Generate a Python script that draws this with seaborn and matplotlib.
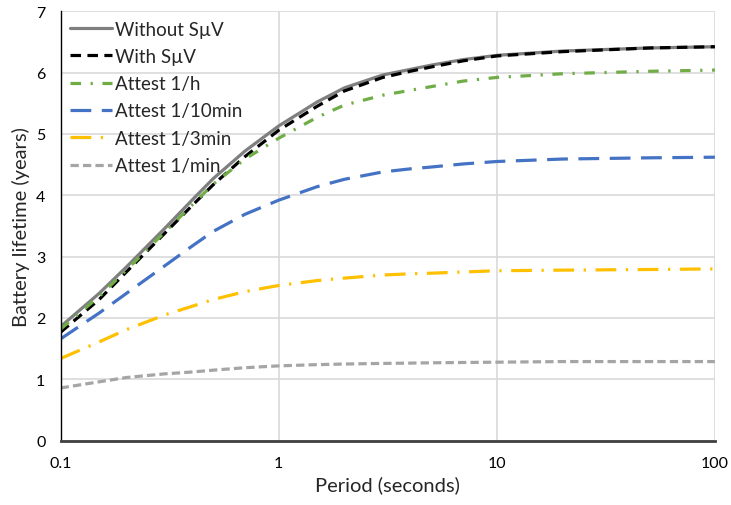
import pandas as pd
import seaborn as sns
import matplotlib.pyplot as plt
from matplotlib.ticker import FixedLocator, NullLocator

# Values
period = [0.1, 0.15, 0.2, 0.3, 0.4, 0.5, 0.7, 1, 1.5, 2, 3, 4, 5, 7, 10, 20, 50, 100]

without_smv = [1.86, 2.40, 2.83, 3.46, 3.92, 4.27, 4.72, 5.13, 5.52, 5.75, 5.96,
               6.05, 6.12, 6.21, 6.28, 6.35, 6.40, 6.42]
with_smv = [1.77, 2.30, 2.75, 3.38, 3.83, 4.17, 4.63, 5.06, 5.45, 5.70, 5.92,
            6.02, 6.09, 6.19, 6.27, 6.34, 6.40, 6.42]
attest_1h = [1.82, 2.35, 2.78, 3.40, 3.84, 4.18, 4.59, 4.93, 5.27, 5.47, 5.63,
             5.71, 5.77, 5.86, 5.92, 5.98, 6.02, 6.04]
attest_10min = [1.66, 2.08, 2.40, 2.85, 3.17, 3.41, 3.69, 3.92, 4.14, 4.26, 4.38,
                4.43, 4.46, 4.51, 4.55, 4.59, 4.61, 4.62]
attest_3min = [1.34, 1.61, 1.81, 2.05, 2.19, 2.30, 2.43, 2.53, 2.61, 2.65, 2.70,
               2.72, 2.73, 2.75, 2.77, 2.78, 2.79, 2.80]
attest_1min = [0.86, 0.96, 1.03, 1.09, 1.12, 1.15, 1.19, 1.22, 1.24, 1.25, 1.26,
               1.265, 1.27, 1.275, 1.28, 1.29, 1.29, 1.29]

series_names = ["Without SµV", "With SµV", "Attest 1/h",
                "Attest 1/10min", "Attest 1/3min", "Attest 1/min"]
series_values = [without_smv, with_smv, attest_1h,
                 attest_10min, attest_3min, attest_1min]
colors = ["#7f7f7f", "#000000", "#70ad47", "#4472c4", "#ffc000", "#a5a5a5"]
dash_list = ["", (3.3, 2.0), (3.3, 3.0, 0.7, 3.0), (6.5, 3.3),
             (6.5, 3.0, 0.7, 3.0), (2.6, 1.3)]

df = pd.concat(
    [pd.DataFrame({"Period": period, "Lifetime": vals, "Series": name})
     for name, vals in zip(series_names, series_values)],
    ignore_index=True,
)

sns.set_style("white")
plt.rcParams["font.family"] = ["Lato", "DejaVu Sans"]

fig, ax = plt.subplots(figsize=(7.31, 5.06), dpi=100)
fig.subplots_adjust(left=0.083, right=0.978, top=0.976, bottom=0.127)

sns.lineplot(
    data=df, x="Period", y="Lifetime", hue="Series", style="Series",
    hue_order=series_names, style_order=series_names,
    palette=dict(zip(series_names, colors)),
    dashes=dict(zip(series_names, dash_list)),
    linewidth=2.3, ax=ax,
)

ax.set_xscale("log")
ax.set_xlim(0.1, 100)
ax.set_ylim(0, 7)
ax.xaxis.set_major_locator(FixedLocator([0.1, 1, 10, 100]))
ax.xaxis.set_minor_locator(NullLocator())
ax.set_xticklabels(["0.1", "1", "10", "100"])
ax.set_yticks(range(0, 8))

ax.grid(True, color="#d9d9d9", linewidth=1.2)
ax.set_axisbelow(True)
for side in ["top", "right"]:
    ax.spines[side].set_visible(False)
ax.spines["left"].set_color("black")
ax.spines["left"].set_linewidth(1.0)
ax.spines["bottom"].set_color("#404040")
ax.spines["bottom"].set_linewidth(2.0)
ax.tick_params(axis="both", direction="out", length=5, width=1,
               labelsize=11.5, colors="black", pad=6)
ax.tick_params(axis="x", color="#404040")

ax.set_xlabel("Period (seconds)", fontsize=14.5)
ax.set_ylabel("Battery lifetime (years)", fontsize=14.5)

leg = ax.legend(loc="upper left", frameon=False, fontsize=13.5,
                handlelength=2.25, handletextpad=0.15, labelspacing=0.55,
                borderaxespad=0.1, bbox_to_anchor=(0.0, 1.0))

fig.savefig("out.png", dpi=100)
